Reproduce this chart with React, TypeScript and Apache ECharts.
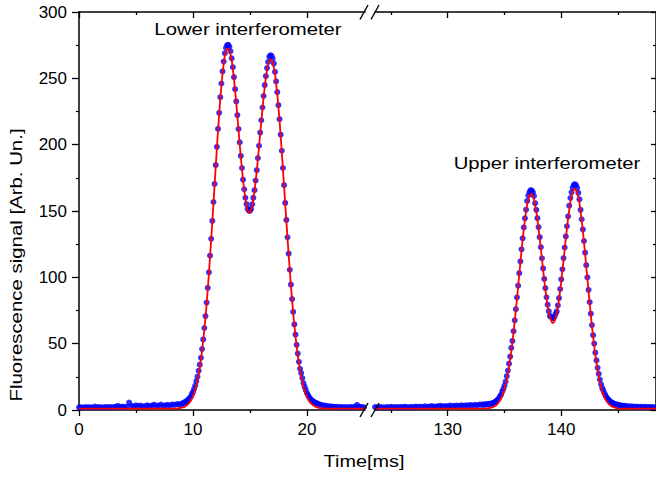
import React, { useEffect, useRef } from "react";
import * as echarts from "echarts";

// ---------- data ----------
// Lower interferometer, measured signal (blue dots)
// baseline, t = 0.0 .. 8.8 ms, every 0.2 ms
const lowerBaseline = [
  2.0, 2.1, 1.9, 2.2, 2.0, 2.1, 1.9, 2.6, 2.0, 2.2,
  1.9, 2.1, 2.3, 2.0, 2.2, 2.1, 2.4, 3.1, 2.3, 2.6,
  2.2, 2.5, 5.6, 3.2, 2.7, 3.6, 2.9, 3.4, 2.6, 2.9,
  3.5, 2.8, 3.3, 4.0, 3.1, 3.4, 4.1, 3.2, 3.6, 3.9,
  3.4, 4.2, 3.8, 4.5, 4.3,
];
// peaks, t = 9.0 .. 21.0 ms, every 0.1 ms
const lowerPeaks = [
  4.5, 5.2, 4.8, 6.1, 5.9, 7.3, 7.5, 9.0, 9.8, 11.9,
  13.5, 15.8, 18.4, 21.7, 25.1, 29.5, 34.2,
  39.4, 45.9, 53.2, 61.8, 70.8, 81.0, 92.0, 103.8, 116.3,
  129.0, 142.5, 156.8, 170.4, 184.6, 198.3, 211.9, 224.0, 235.8, 246.1, 255.2, 262.7, 268.9, 273.0,
  275.0, 275.2, 273.8, 270.4,
  265.1, 258.4, 250.9, 241.8, 232.6, 222.3, 211.8, 201.8, 191.5, 182.4, 173.6, 166.4,
  160.0, 155.2, 151.7, 150.3, 150.2, 151.6,
  155.0, 159.9, 165.7, 173.0, 180.8, 189.9, 199.2, 209.1, 218.4, 228.0, 236.7, 244.9, 251.6, 257.7, 262.3,
  266.2, 267.3, 267.0, 264.8, 261.1,
  254.8, 247.7, 239.6, 229.8, 219.2, 207.5, 195.4, 182.4, 169.5, 156.1, 143.3, 130.2, 117.9, 105.7, 94.5, 83.6, 73.9, 64.5,
  56.8, 49.1, 42.5, 36.3, 31.1,
  27.8, 24.1, 20.3, 17.6, 15.1, 12.8, 11.2, 9.6, 8.6, 7.4, 6.9, 6.0, 5.8, 5.2, 4.9, 4.6,
];
// tail, t = 21.2 .. 25.0 ms, every 0.2 ms
const lowerTail = [
  4.0, 3.6, 3.3, 3.0, 2.8, 2.6, 2.5, 2.4, 2.2, 2.3,
  2.1, 2.2, 2.0, 2.3, 2.1, 2.4, 3.8, 2.5, 2.2, 2.1,
];

// Upper interferometer, measured signal (blue dots)
// baseline, t = 123.6 .. 132.8 ms, every 0.2 ms
const upperBaseline = [
  2.2, 2.0, 2.3, 2.1, 1.9, 2.2, 2.0, 2.4, 2.1, 2.2,
  2.0, 2.3, 2.1, 2.5, 2.2, 2.0, 2.4, 2.2, 2.6, 2.3,
  2.5, 2.2, 2.8, 2.4, 2.6, 3.0, 2.5, 2.7, 2.9, 3.2,
  2.7, 3.0, 2.8, 3.3, 2.9, 3.1, 3.4, 3.0, 3.6, 3.2,
  3.5, 3.3, 3.8, 3.4, 3.9, 3.6, 4.1,
];
// peaks, t = 133.0 .. 145.6 ms, every 0.1 ms
const upperPeaks = [
  4.1, 3.9, 4.3, 4.0, 4.4, 4.2, 4.6, 4.3, 4.9, 4.8,
  5.3, 5.6, 6.4, 6.8, 7.9, 8.6, 10.3, 11.5, 13.8, 15.9,
  18.4, 21.5, 25.5, 29.7, 34.9, 40.3, 46.8,
  52.1, 59.4, 67.6, 76.0, 84.9, 93.7, 103.1, 112.0, 121.1, 129.4, 137.6, 144.5, 151.0,
  157.6, 161.7, 164.2, 165.7, 165.4, 164.1, 161.3,
  155.9, 150.9, 144.6, 137.9, 130.3, 122.7, 114.4, 106.7, 98.8, 91.8, 85.0, 79.4, 74.5, 70.8,
  70.4, 69.3, 69.2, 70.2, 72.4,
  74.3, 78.8, 84.4, 91.2, 98.5, 106.1, 114.5, 122.5, 130.8, 138.5, 146.0,
  154.0, 159.8, 164.1, 167.6, 169.6, 170.2, 169.4, 167.3, 163.6, 158.8,
  150.9, 143.8, 136.1, 127.4, 118.6, 109.2, 99.9, 90.6, 81.3, 72.6, 64.0, 56.4,
  50.1, 43.2, 37.4, 31.8, 27.3, 23.0, 19.4, 16.5,
  14.9, 12.6, 10.8, 9.4, 8.2, 7.4, 6.4, 5.9, 5.3, 4.9, 4.6, 4.2, 4.1, 3.8, 3.6, 3.5, 3.3, 3.2, 3.0, 3.1,
];
// tail, t = 145.8 .. 148.2 ms, every 0.2 ms
const upperTail = [2.9, 2.7, 2.8, 2.5, 2.6, 2.4, 2.5, 2.3, 2.4, 2.2, 2.3, 2.2, 2.1];

// Fitted curves (red lines): [time ms, signal]
const lowerFit: [number, number][] = [
  [0, 1.0], [8.0, 1.0], [8.6, 1.2], [9.0, 1.7], [9.2, 2.2], [9.4, 3.1], [9.6, 4.6], [9.8, 6.9],
  [10.0, 10.3], [10.2, 15.2], [10.4, 22.3], [10.6, 31.8], [10.8, 44.3], [11.0, 60.3], [11.2, 79.7],
  [11.4, 102.5], [11.6, 128.1], [11.8, 155.6], [12.0, 183.6], [12.2, 210.6], [12.4, 234.6],
  [12.6, 254.0], [12.8, 267.4], [13.0, 272.5], [13.2, 271.3], [13.4, 264.0], [13.6, 249.8],
  [13.8, 231.5], [14.0, 210.9], [14.2, 190.7], [14.4, 172.8], [14.6, 159.1], [14.8, 150.0],
  [15.0, 148.4], [15.2, 153.6], [15.4, 164.8], [15.6, 179.9], [15.8, 198.3], [16.0, 217.5],
  [16.2, 235.8], [16.4, 250.8], [16.6, 260.7], [16.8, 264.4], [17.0, 262.4], [17.2, 253.7],
  [17.4, 238.5], [17.6, 218.1], [17.8, 194.3], [18.0, 168.4], [18.2, 142.2], [18.4, 116.8],
  [18.6, 93.4], [18.8, 72.8], [19.0, 55.3], [19.2, 40.9], [19.4, 29.5], [19.6, 20.9], [19.8, 14.5],
  [20.0, 9.9], [20.2, 6.7], [20.4, 4.6], [20.6, 3.2], [20.8, 2.3], [21.0, 1.7], [21.4, 1.2],
  [22.0, 1.0], [25.1, 1.0],
];
const upperFit: [number, number][] = [
  [123.6, 1.0], [133.0, 1.0], [133.4, 1.2], [133.6, 1.4], [133.8, 1.7], [134.0, 2.2], [134.2, 3.2],
  [134.4, 4.7], [134.6, 7.1], [134.8, 10.7], [135.0, 15.8], [135.2, 22.9], [135.4, 32.3],
  [135.6, 44.2], [135.8, 58.5], [136.0, 75.0], [136.2, 92.8], [136.4, 111.1], [136.6, 128.5],
  [136.8, 143.6], [137.0, 155.1], [137.2, 161.8], [137.4, 163.0], [137.6, 158.9], [137.8, 149.8],
  [138.0, 136.8], [138.2, 121.6], [138.4, 105.6], [138.6, 90.7], [138.8, 78.3], [139.0, 69.6],
  [139.2, 65.7], [139.3, 65.6], [139.4, 66.7], [139.6, 72.7], [139.8, 83.0], [140.0, 96.9],
  [140.2, 112.9], [140.4, 129.2], [140.6, 144.5], [140.8, 156.7], [141.0, 164.6], [141.2, 167.2],
  [141.4, 164.2], [141.6, 155.9], [141.8, 142.9], [142.0, 126.5], [142.2, 108.3], [142.4, 89.5],
  [142.6, 71.5], [142.8, 55.3], [143.0, 41.3], [143.2, 29.9], [143.4, 21.0], [143.6, 14.4],
  [143.8, 9.7], [144.0, 6.4], [144.2, 4.3], [144.4, 2.9], [144.6, 2.1], [144.8, 1.6], [145.0, 1.3],
  [145.6, 1.05], [148.4, 1.0],
];

// axis ranges and ticks
const lowerRange = [0, 25.1];
const upperRange = [123.6, 148.34];
const lowerMajorTicks = [0, 10, 20];
const lowerMinorTicks = [5, 15];
const upperMajorTicks = [130, 140];
const upperMinorTicks = [125, 135, 145];
const yMin = 0;
const yMax = 300;
const yInterval = 50;

const xTitle = "Time[ms]";
const yTitle = "Fluorescence signal [Arb. Un.]";
const lowerLabel = "Lower interferometer";
const upperLabel = "Upper interferometer";

// ---------- helpers ----------
const sampled = (start: number, step: number, values: number[]) =>
  values.map((v, i) => [Math.round((start + i * step) * 100) / 100, v]);

const lowerSignal = [
  ...sampled(0, 0.2, lowerBaseline),
  ...sampled(9.0, 0.1, lowerPeaks),
  ...sampled(21.2, 0.2, lowerTail),
];
const upperSignal = [
  ...sampled(123.6, 0.2, upperBaseline),
  ...sampled(133.0, 0.1, upperPeaks),
  ...sampled(145.8, 0.2, upperTail),
];

const FONT = "'Liberation Sans', Arial, Helvetica, sans-serif";
const BLACK = "#000";
const LINE = { color: BLACK, width: 1.5 };

const GRID_TOP = 12;
const GRID_H = 398;
const L_LEFT = 79;
const L_W = 286;
const R_LEFT = 375;
const R_W = 282;

function xAx(
  gridIndex: number,
  range: number[],
  position: "top" | "bottom",
  ticks: number[],
  len: number,
  inside: boolean,
  showLine: boolean,
  showLabel: boolean
) {
  return {
    type: "value",
    gridIndex,
    position,
    min: range[0],
    max: range[1],
    axisLine: { show: showLine, onZero: false, lineStyle: LINE },
    axisTick: { show: true, inside, length: len, customValues: ticks, lineStyle: { color: BLACK, width: 1.3 } },
    axisLabel: showLabel
      ? { show: true, customValues: ticks, margin: 11, fontSize: 17, fontFamily: FONT, color: BLACK }
      : { show: false },
    splitLine: { show: false },
    minorTick: { show: false },
  };
}

export default function App() {
  const ref = useRef<HTMLDivElement>(null);
  useEffect(() => {
    document.body.style.margin = "0";
    if (!ref.current) return;
    const chart = echarts.init(ref.current, null, { renderer: "svg" });
    const breakLines = (y1: number, y2: number) =>
      [360, 371].map((x0) => ({
        type: "line",
        shape: { x1: x0, y1: y1, x2: x0 + 8, y2: y2 },
        style: { stroke: BLACK, lineWidth: 1.4 },
        z: 100,
      }));
    const option: any = {
      animation: false,
      backgroundColor: "#fff",
      grid: [
        { left: L_LEFT, top: GRID_TOP, width: L_W, height: GRID_H, containLabel: false },
        { left: R_LEFT, top: GRID_TOP, width: R_W, height: GRID_H, containLabel: false },
      ],
      xAxis: [
        xAx(0, lowerRange, "bottom", lowerMajorTicks, 6, false, true, true),
        xAx(0, lowerRange, "bottom", lowerMinorTicks, 3, false, false, false),
        xAx(0, lowerRange, "top", lowerMajorTicks, 6, true, true, false),
        xAx(0, lowerRange, "top", lowerMinorTicks, 3, true, false, false),
        xAx(1, upperRange, "bottom", upperMajorTicks, 6, false, true, true),
        xAx(1, upperRange, "bottom", upperMinorTicks, 3, false, false, false),
        xAx(1, upperRange, "top", upperMajorTicks, 6, true, true, false),
        xAx(1, upperRange, "top", upperMinorTicks, 3, true, false, false),
      ],
      yAxis: [
        {
          type: "value",
          gridIndex: 0,
          position: "left",
          min: yMin,
          max: yMax,
          interval: yInterval,
          axisLine: { show: true, onZero: false, lineStyle: LINE },
          axisTick: { show: true, inside: false, length: 7, lineStyle: { color: BLACK, width: 1.3 } },
          minorTick: { show: true, splitNumber: 2, length: 3, lineStyle: { color: BLACK, width: 1.2 } },
          axisLabel: { show: true, margin: 12, fontSize: 17, fontFamily: FONT, color: BLACK },
          splitLine: { show: false },
        },
        {
          type: "value",
          gridIndex: 1,
          position: "right",
          min: yMin,
          max: yMax,
          interval: yInterval,
          axisLine: { show: true, onZero: false, lineStyle: LINE },
          axisTick: { show: true, inside: true, length: 5, lineStyle: { color: BLACK, width: 1.3 } },
          minorTick: { show: true, splitNumber: 2, length: 3, lineStyle: { color: BLACK, width: 1.2 } },
          axisLabel: { show: false },
          splitLine: { show: false },
        },
      ],
      series: [
        {
          type: "scatter",
          xAxisIndex: 0,
          yAxisIndex: 0,
          data: lowerSignal,
          symbol: "circle",
          symbolSize: 6,
          itemStyle: { color: "#0000ff" },
          clip: true,
        },
        {
          type: "line",
          xAxisIndex: 0,
          yAxisIndex: 0,
          data: lowerFit,
          showSymbol: false,
          lineStyle: { color: "#ff0000", width: 1.8 },
          clip: true,
        },
        {
          type: "scatter",
          xAxisIndex: 4,
          yAxisIndex: 1,
          data: upperSignal,
          symbol: "circle",
          symbolSize: 6,
          itemStyle: { color: "#0000ff" },
          clip: true,
        },
        {
          type: "line",
          xAxisIndex: 4,
          yAxisIndex: 1,
          data: upperFit,
          showSymbol: false,
          lineStyle: { color: "#ff0000", width: 1.8 },
          clip: true,
        },
      ],
      graphic: [
        ...breakLines(417, 403),
        ...breakLines(19.5, 5),
        {
          type: "text",
          x: 248,
          y: 29,
          scaleX: 1.27,
          style: { text: lowerLabel, fontSize: 16, fontFamily: FONT, fill: BLACK, align: "center", verticalAlign: "middle" },
        },
        {
          type: "text",
          x: 547,
          y: 163,
          scaleX: 1.265,
          style: { text: upperLabel, fontSize: 16, fontFamily: FONT, fill: BLACK, align: "center", verticalAlign: "middle" },
        },
        {
          type: "text",
          x: 364,
          y: 462,
          scaleX: 1.24,
          style: { text: xTitle, fontSize: 16, fontFamily: FONT, fill: BLACK, align: "center", verticalAlign: "middle" },
        },
        {
          type: "text",
          x: 16,
          y: 265,
          rotation: Math.PI / 2,
          scaleX: 1.2,
          style: { text: yTitle, fontSize: 17, fontFamily: FONT, fill: BLACK, align: "center", verticalAlign: "middle" },
        },
      ],
    };
    chart.setOption(option);
    return () => chart.dispose();
  }, []);
  return <div ref={ref} style={{ width: 656, height: 479 }} />;
}
